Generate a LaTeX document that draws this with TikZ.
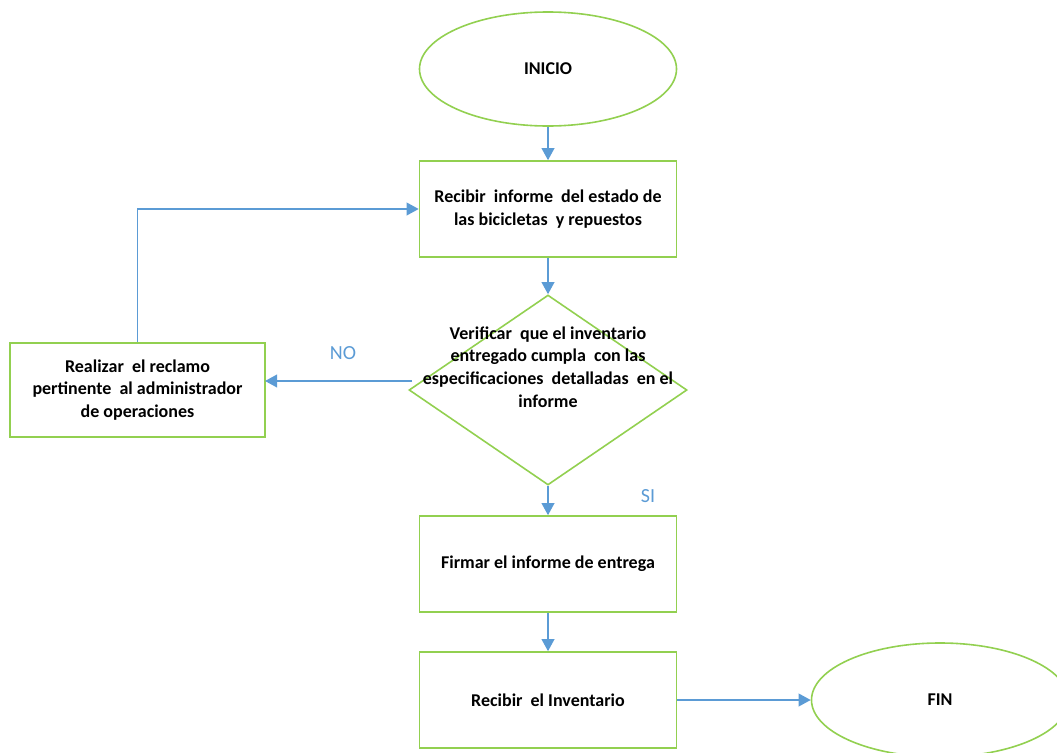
\documentclass[tikz,border=0pt]{standalone}
\usepackage{fontspec}
\setmainfont{Carlito}
\usetikzlibrary{shapes.geometric,arrows.meta}
\definecolor{boxgreen}{RGB}{146,208,80}
\definecolor{arrowblue}{RGB}{91,155,213}
\tikzset{
  every node/.style={font=\fontsize{13.5}{17}\selectfont\bfseries},
  stepbox/.style={draw=boxgreen, line width=1.2pt, rectangle, minimum width=192.75pt, minimum height=72pt, align=center, inner sep=0pt},
  terminal/.style={draw=boxgreen, line width=1.2pt, ellipse, minimum width=192.75pt, minimum height=85.5pt, inner sep=0pt},
  decision/.style={draw=boxgreen, line width=1.2pt, diamond, minimum width=208.5pt, minimum height=142.5pt, inner sep=0pt},
  flow/.style={draw=arrowblue, line width=1.2pt, -{Triangle[width=9.5pt,length=9pt]}},
  answer/.style={font=\fontsize{15}{17}\selectfont, text=arrowblue}
}
\begin{document}
\begin{tikzpicture}[x=0.75pt,y=-0.75pt]
\useasboundingbox (0,0) rectangle (1057,753);
\clip (0,0) rectangle (1057,753);
\node[terminal] (inicio) at (548,69) {INICIO};
\node[stepbox] (recibir) at (548,209) {Recibir \ informe \ del estado de\\las bicicletas \ y repuestos};
\node[decision] (verif) at (548,390) {};
\node[align=center] (veriftext) at (548,367) {Verificar \ que el inventario\\entregado cumpla \ con las\\especificaciones \ detalladas \ en el\\informe};
\node[stepbox, minimum width=191.25pt, minimum height=70.5pt] (reclamo) at (137.5,390) {Realizar \ el reclamo\\pertinente \ al administrador\\de operaciones};
\node[stepbox] (firmar) at (548,564) {Firmar el informe de entrega};
\node[stepbox] (inventario) at (548,700) {Recibir \ el Inventario};
\node[terminal] (fin) at (940,700) {FIN};
\coordinate (corner) at (137.5,209);
\coordinate (nostart) at (412,381);
\coordinate (noend) at (265,381);
\node[answer] (no) at (343,353) {NO};
\node[answer] (si) at (648,496) {SI};
\draw[flow] (inicio) -- (recibir);
\draw[flow] (recibir) -- (verif.north);
\draw[flow] (nostart) -- (noend);
\draw[flow] (reclamo.north) -- (corner) -- (recibir.west |- corner);
\draw[flow] (verif.south) -- (firmar.north);
\draw[flow] (firmar) -- (inventario);
\draw[flow] (inventario.east) -- (fin.west);
\end{tikzpicture}
\end{document}
